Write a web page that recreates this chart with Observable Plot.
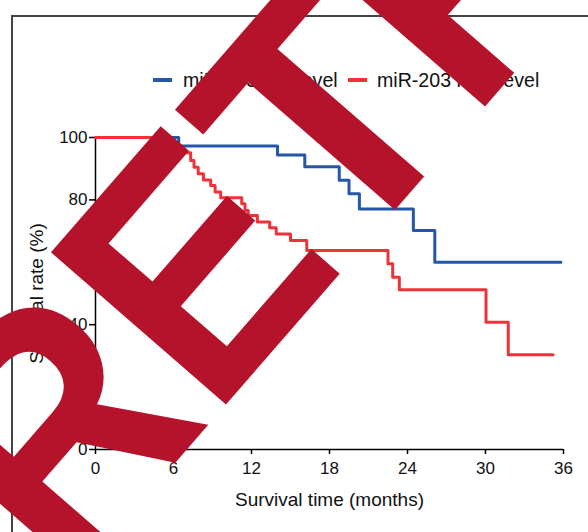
<!DOCTYPE html>
<html><head><meta charset="utf-8">
<script src="https://cdn.jsdelivr.net/npm/d3@7"></script>
<script src="https://cdn.jsdelivr.net/npm/@observablehq/plot@0.6"></script>
<style>
body{margin:0;background:#fff;font-family:"Liberation Sans",Arial,sans-serif;}
#wrap{position:relative;width:588px;height:532px;overflow:hidden;background:#fff;}
#frame{position:absolute;left:11px;top:15px;width:700px;height:700px;border-left:2px solid #444;border-top:2px solid #444;}
#legend{position:relative;height:100px;}
.sw{position:absolute;top:78px;width:19px;height:4px;}
.lt{position:absolute;top:69px;font-size:19.6px;line-height:22px;color:#111;white-space:nowrap;}
#chart{position:relative;}
#stamp{position:absolute;left:0;top:0;pointer-events:none;}
</style></head>
<body>
<div id="wrap">
  <div id="frame"></div>
  <div id="legend"></div>
  <div id="chart"></div>
</div>
<script>
// ---- data ----
const seriesNames = ["miR-203 low level", "miR-203 high level"];
const seriesColors = ["#2457a8", "#ee3338"];

// blue group
const blueTime = [0, 6.4, 14.0, 16.1, 18.75, 19.5, 20.3, 24.45, 26.1, 35.8];
const blueSurv = [100, 97.3, 94.4, 90.6, 86.3, 82.0, 77.1, 70.2, 60.0, 60.0];

// red group
const redTime = [0, 4.6, 5.4, 7.32, 7.58, 7.9, 8.3, 8.86, 9.2, 9.63, 11.25, 11.5, 11.75, 12.45, 13.4, 13.9, 15.0, 16.25, 22.5, 22.86, 23.37, 30.04, 31.75, 35.2];
const redSurv = [100, 97.6, 95.1, 92.6, 90.5, 88.4, 86.4, 84.6, 82.5, 80.7, 78.8, 76.6, 75.0, 72.9, 71.1, 69.1, 67.0, 63.8, 59.5, 55.2, 51.2, 40.8, 30.4, 30.4];

const xTicks = [0, 6, 12, 18, 24, 30, 36];
const yTicks = [0, 20, 40, 60, 80, 100];
const xLabel = "Survival time (months)";
const yLabel = "Survival rate (%)";
const stampText = "RETRACTED";

// ---- build ----
const rows = [
  ...blueTime.map((t, i) => ({t, s: blueSurv[i], g: seriesNames[0]})),
  ...redTime.map((t, i) => ({t, s: redSurv[i], g: seriesNames[1]}))
];

// legend
const legend = document.getElementById("legend");
const legendPos = [[153, 183], [348, 377]];
seriesNames.forEach((n, i) => {
  const sw = document.createElement("div");
  sw.className = "sw";
  sw.style.left = legendPos[i][0] + "px";
  sw.style.background = seriesColors[i];
  legend.appendChild(sw);
  const t = document.createElement("span");
  t.className = "lt";
  t.style.left = legendPos[i][1] + "px";
  t.textContent = n;
  legend.appendChild(t);
});

const plot = Plot.plot({
  width: 588,
  height: 432,
  marginTop: 37,
  marginBottom: 83,
  marginLeft: 95,
  marginRight: 25,
  style: {fontFamily: "Liberation Sans, Arial, sans-serif", fontSize: "17px", color: "#111", background: "transparent", overflow: "visible"},
  x: {domain: [0, 36]},
  y: {domain: [0, 100]},
  color: {domain: seriesNames, range: seriesColors},
  marks: [
    Plot.axisX({ticks: xTicks, tickSize: 5, tickPadding: 7, fontSize: 17, label: xLabel, labelAnchor: "center", labelArrow: "none", labelOffset: 56, stroke: "#000", strokeWidth: 1.5}),
    Plot.axisY({ticks: yTicks, tickSize: 6, tickPadding: 2, fontSize: 17, label: yLabel, labelAnchor: "center", labelArrow: "none", labelOffset: 66, stroke: "#000", strokeWidth: 1.5}),
    Plot.ruleX([0], {stroke: "#000", strokeWidth: 1.5}),
    Plot.ruleY([0], {stroke: "#000", strokeWidth: 1.5}),
    Plot.line(rows, {x: "t", y: "s", z: "g", stroke: "g", curve: "step-after", strokeWidth: 3})
  ]
});
d3.select(plot).selectAll('[aria-label="x-axis label"] text, [aria-label="y-axis label"] text').attr("font-size", 19);
document.getElementById("chart").appendChild(plot);

// stamp overlay
const NS = "http://www.w3.org/2000/svg";
const stamp = document.createElementNS(NS, "svg");
stamp.setAttribute("id", "stamp");
stamp.setAttribute("width", 588);
stamp.setAttribute("height", 532);
const st = document.createElementNS(NS, "text");
st.setAttribute("x", 0);
st.setAttribute("y", 0);
st.setAttribute("transform", "translate(66 588.5) rotate(-49) scale(0.917 1)");
st.setAttribute("font-family", "Liberation Sans, Arial, sans-serif");
st.setAttribute("font-weight", "bold");
st.setAttribute("font-size", 337);
st.setAttribute("fill", "#b5122b");
st.textContent = stampText;
stamp.appendChild(st);
document.getElementById("wrap").appendChild(stamp);
</script>
</body></html>
